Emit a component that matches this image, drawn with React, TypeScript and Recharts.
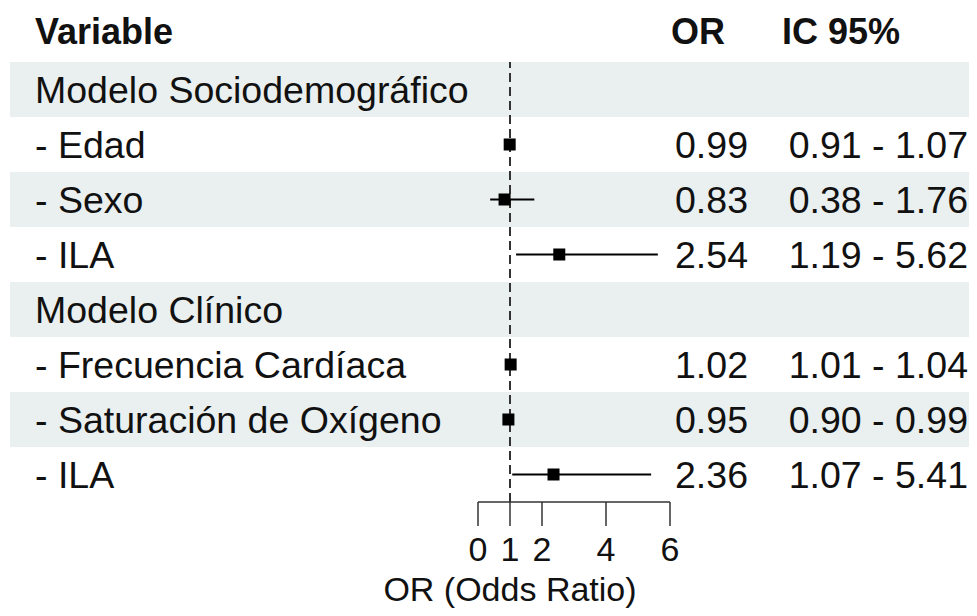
import { ComposedChart, Scatter, ErrorBar, XAxis, YAxis, ReferenceLine, ReferenceArea } from 'recharts'

const variables = [
  'Modelo Sociodemográfico',
  '- Edad',
  '- Sexo',
  '- ILA',
  'Modelo Clínico',
  '- Frecuencia Cardíaca',
  '- Saturación de Oxígeno',
  '- ILA',
]
const oddsRatios = [null, 0.99, 0.83, 2.54, null, 1.02, 0.95, 2.36]
const ciLower = [null, 0.91, 0.38, 1.19, null, 1.01, 0.90, 1.07]
const ciUpper = [null, 1.07, 1.76, 5.62, null, 1.04, 0.99, 5.41]
const xTicks = [0, 1, 2, 4, 6]
const shadedRows = [0, 2, 4, 6]

const FONT = '"Liberation Sans", Arial, Helvetica, sans-serif'
const BODY = 37.5
const BAND = '#eaefef'

// each row sits in its own unit slot on a numeric y axis (row i -> i + 0.5)
const rows = variables.map((label, i) => {
  const or = oddsRatios[i]
  const lo = ciLower[i]
  const hi = ciUpper[i]
  return {
    pos: i + 0.5,
    label,
    or,
    err: or != null && lo != null && hi != null ? [or - lo, hi - or] : undefined,
    orText: or != null ? or.toFixed(2) : '',
    ciText: lo != null && hi != null ? `${lo.toFixed(2)} - ${hi.toFixed(2)}` : '',
  }
})
const pointRows = rows.filter(r => r.or != null)

function RowTick(props: any) {
  const { y, payload } = props
  const row = rows.find(r => r.pos === payload.value)
  if (!row) return null
  const base = y + BODY * 0.358
  return (
    <g fontFamily={FONT} fontSize={BODY} fill="#111">
      <text x={35} y={base}>{row.label}</text>
      <text x={748} y={base} textAnchor="end">{row.orText}</text>
      <text x={968} y={base} textAnchor="end">{row.ciText}</text>
    </g>
  )
}

function Square(props: any) {
  const { cx, cy } = props
  if (!Number.isFinite(cx) || !Number.isFinite(cy)) return null
  return <rect x={cx - 6} y={cy - 6} width={12} height={12} fill="#000" />
}

function BandShape(props: any) {
  const { y, height } = props
  return <rect x={10} y={y} width={967} height={height} fill={BAND} />
}

export default function App() {
  return (
    <div style={{ width: 977, height: 616, margin: -8, background: '#fff' }}>
      <ComposedChart
        width={977}
        height={616}
        data={pointRows}
        margin={{ top: 62, right: 307, bottom: 0, left: 0 }}
      >
        {shadedRows.map(i => (
          <ReferenceArea key={i} y1={i} y2={i + 1} shape={BandShape} ifOverflow="visible" />
        ))}
        <YAxis
          type="number"
          dataKey="pos"
          domain={[0, variables.length]}
          reversed
          ticks={rows.map(r => r.pos)}
          interval={0}
          width={478}
          axisLine={false}
          tickLine={false}
          tick={RowTick}
        />
        <XAxis
          type="number"
          dataKey="or"
          domain={[0, 6]}
          ticks={xTicks}
          interval={0}
          allowDataOverflow
          height={114}
          tickSize={24}
          tickMargin={11}
          axisLine={{ stroke: '#333', strokeWidth: 1.5 }}
          tickLine={{ stroke: '#333', strokeWidth: 1.5 }}
          tick={{ fontSize: 34, fill: '#111', fontFamily: FONT }}
        />
        <ReferenceLine x={1} stroke="#333" strokeWidth={2} strokeDasharray="9 5" />
        <Scatter dataKey="or" shape={Square} isAnimationActive={false}>
          <ErrorBar dataKey="err" direction="x" width={0} stroke="#000" strokeWidth={2} isAnimationActive={false} />
        </Scatter>
        <g fontFamily={FONT} fill="#111">
          <text x={35} y={44} fontSize={36} fontWeight="bold">Variable</text>
          <text x={671} y={44} fontSize={36} fontWeight="bold">OR</text>
          <text x={782} y={44} fontSize={36} fontWeight="bold">IC 95%</text>
          <text x={510} y={601} fontSize={34} textAnchor="middle">OR (Odds Ratio)</text>
        </g>
      </ComposedChart>
    </div>
  )
}
